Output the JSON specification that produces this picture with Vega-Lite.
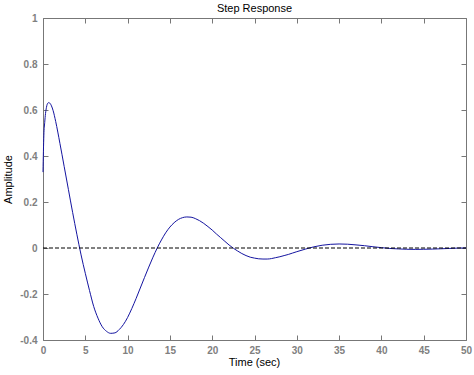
{
  "$schema": "https://vega.github.io/schema/vega-lite/v6.json",
  "width": 423,
  "height": 322,
  "autosize": {"type": "none"},
  "padding": {"left": 43, "top": 18, "right": 8, "bottom": 35},
  "background": "white",
  "title": {"text": "Step Response", "fontSize": 11, "font": "Liberation Sans", "fontWeight": "normal", "color": "black", "offset": 8, "dy": 9, "anchor": "middle"},
  "config": {
    "view": {"stroke": null},
    "axis": {
      "grid": false,
      "domainColor": "#777777",
      "tickColor": "#777777",
      "tickSize": -5,
      "domainWidth": 1,
      "tickWidth": 1,
      "labelColor": "#808080",
      "labelFont": "Liberation Sans",
      "labelFontSize": 10,
      "labelFontWeight": "bold",
      "titleFont": "Liberation Sans",
      "titleFontSize": 11,
      "titleFontWeight": "normal",
      "titleColor": "black"
    }
  },
  "datasets": {
    "resp": [
      {"t": 0, "y": 0.33}, {"t": 0.05, "y": 0.42}, {"t": 0.1, "y": 0.49}, {"t": 0.2, "y": 0.545},
      {"t": 0.3, "y": 0.585}, {"t": 0.4, "y": 0.61}, {"t": 0.5, "y": 0.625}, {"t": 0.65, "y": 0.632},
      {"t": 0.8, "y": 0.63}, {"t": 1.0, "y": 0.618}, {"t": 1.2, "y": 0.597}, {"t": 1.5, "y": 0.55},
      {"t": 2.0, "y": 0.455}, {"t": 2.5, "y": 0.355}, {"t": 3.0, "y": 0.255}, {"t": 3.5, "y": 0.155},
      {"t": 4.0, "y": 0.06}, {"t": 4.5, "y": -0.03}, {"t": 5.0, "y": -0.11}, {"t": 5.5, "y": -0.185},
      {"t": 6.0, "y": -0.255}, {"t": 6.5, "y": -0.305}, {"t": 7.0, "y": -0.342}, {"t": 7.5, "y": -0.362},
      {"t": 8.0, "y": -0.371}, {"t": 8.5, "y": -0.369}, {"t": 9.0, "y": -0.355}, {"t": 9.5, "y": -0.333},
      {"t": 10, "y": -0.302}, {"t": 10.5, "y": -0.263}, {"t": 11, "y": -0.22}, {"t": 11.5, "y": -0.174},
      {"t": 12, "y": -0.128}, {"t": 12.5, "y": -0.083}, {"t": 13, "y": -0.04}, {"t": 13.5, "y": 0},
      {"t": 14, "y": 0.035}, {"t": 14.5, "y": 0.066}, {"t": 15, "y": 0.091}, {"t": 15.5, "y": 0.11},
      {"t": 16, "y": 0.124}, {"t": 16.5, "y": 0.132}, {"t": 17, "y": 0.135}, {"t": 17.5, "y": 0.134},
      {"t": 18, "y": 0.128}, {"t": 18.5, "y": 0.119}, {"t": 19, "y": 0.107}, {"t": 19.5, "y": 0.093},
      {"t": 20, "y": 0.078}, {"t": 20.5, "y": 0.061}, {"t": 21, "y": 0.045}, {"t": 21.5, "y": 0.029},
      {"t": 22, "y": 0.013}, {"t": 22.5, "y": -0.001}, {"t": 23, "y": -0.013}, {"t": 23.5, "y": -0.024},
      {"t": 24, "y": -0.033}, {"t": 24.5, "y": -0.04}, {"t": 25, "y": -0.044}, {"t": 25.5, "y": -0.047},
      {"t": 26, "y": -0.048}, {"t": 26.5, "y": -0.048}, {"t": 27, "y": -0.046}, {"t": 27.5, "y": -0.042},
      {"t": 28, "y": -0.038}, {"t": 28.5, "y": -0.033}, {"t": 29, "y": -0.028}, {"t": 29.5, "y": -0.022},
      {"t": 30, "y": -0.016}, {"t": 31, "y": -0.005}, {"t": 32, "y": 0.005}, {"t": 33, "y": 0.012},
      {"t": 34, "y": 0.016}, {"t": 35, "y": 0.0175}, {"t": 36, "y": 0.0165}, {"t": 37, "y": 0.0135},
      {"t": 38, "y": 0.01}, {"t": 39, "y": 0.0055}, {"t": 40, "y": 0.0015}, {"t": 41, "y": -0.002},
      {"t": 42, "y": -0.004}, {"t": 43, "y": -0.0055}, {"t": 44, "y": -0.006}, {"t": 45, "y": -0.0055},
      {"t": 46, "y": -0.0047}, {"t": 47, "y": -0.0034}, {"t": 48, "y": -0.002}, {"t": 49, "y": -0.0005},
      {"t": 50, "y": 0.0005}
    ],
    "ref": [
      {"start": 0, "end": 50, "level": 0}
    ]
  },
  "layer": [
    {
      "data": {"name": "resp"},
      "mark": {"type": "line", "color": "#1414a0", "strokeWidth": 1, "interpolate": "monotone"},
      "encoding": {
        "x": {
          "field": "t", "type": "quantitative",
          "scale": {"domain": [0, 50], "nice": false, "zero": false},
          "axis": {"orient": "bottom", "values": [0, 5, 10, 15, 20, 25, 30, 35, 40, 45, 50], "format": "~g", "labelPadding": 10, "title": "Time (sec)", "titleX": 211, "titleY": 25, "titleBaseline": "alphabetic", "titleAnchor": "middle", "labelFlush": false}
        },
        "y": {
          "field": "y", "type": "quantitative",
          "scale": {"domain": [-0.4, 1], "nice": false, "zero": false},
          "axis": {"orient": "left", "values": [-0.4, -0.2, 0, 0.2, 0.4, 0.6, 0.8, 1], "format": "~g", "labelExpr": "replace(datum.label, '−', '-')", "labelPadding": 11, "title": "Amplitude", "titleX": -35, "titleY": 161, "titleBaseline": "middle", "titleAlign": "center", "titleAngle": -90, "labelFlush": false}
        }
      }
    },
    {
      "data": {"name": "ref"},
      "mark": {"type": "rule", "color": "black", "strokeWidth": 1, "strokeDash": [4, 2]},
      "encoding": {
        "x": {"field": "start", "type": "quantitative", "axis": {"orient": "top", "labels": false, "title": null, "values": [0, 5, 10, 15, 20, 25, 30, 35, 40, 45, 50]}},
        "x2": {"field": "end"},
        "y": {"field": "level", "type": "quantitative", "axis": {"orient": "right", "labels": false, "title": null, "values": [-0.4, -0.2, 0, 0.2, 0.4, 0.6, 0.8, 1]}}
      }
    }
  ],
  "resolve": {"axis": {"x": "independent", "y": "independent"}}
}
